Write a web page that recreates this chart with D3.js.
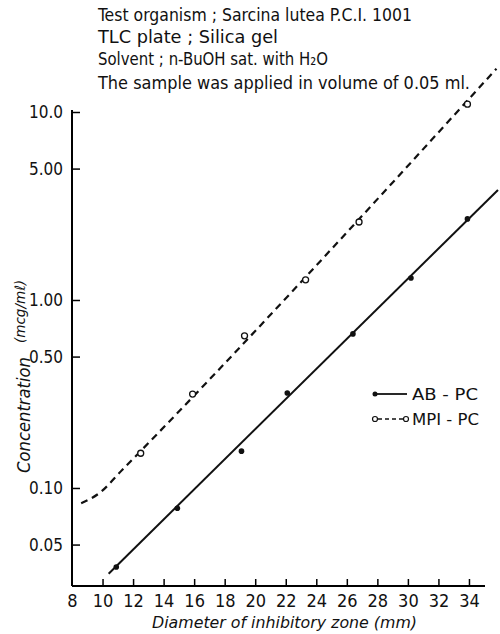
<!DOCTYPE html>
<html>
<head>
<meta charset="utf-8">
<script src="https://cdn.jsdelivr.net/npm/d3@7"></script>
<style>
  html, body { margin: 0; padding: 0; background: #fff; }
  svg { display: block; }
  text { fill: #111; font-family: "DejaVu Sans Condensed", "Liberation Sans Narrow", "Liberation Sans", sans-serif; }
</style>
</head>
<body>
<svg id="chart" width="500" height="634"></svg>
<script>
// Measured points: diameter (mm) vs. concentration (mcg/ml)
const abDiameter   = [10.9, 14.9, 19.1, 22.1, 26.4, 30.2, 33.9];
const abConc       = [0.038, 0.078, 0.157, 0.32, 0.66, 1.31, 2.70];
const mpiDiameter  = [12.5, 15.9, 19.3, 23.3, 26.8, 33.9];
const mpiConc      = [0.153, 0.316, 0.645, 1.28, 2.60, 11.0];

// Drawn standard curves
const abCurveDiameter  = [10.4, 35.9];
const abCurveConc      = [0.035, 3.85];
const mpiCurveDiameter = [8.6, 9.8, 11.3, 35.8];
const mpiCurveConc     = [0.083, 0.094, 0.125, 17.0];

// Axis ticks
const xTicks = [8, 10, 12, 14, 16, 18, 20, 22, 24, 26, 28, 30, 32, 34];
const yTicks = [0.05, 0.1, 0.5, 1, 5, 10];
const yTickLabels = ["0.05", "0.10", "0.50", "1.00", "5.00", "10.0"];

const titleLines = [
  "Test organism ; Sarcina lutea P.C.I. 1001",
  "TLC plate ; Silica gel",
  "Solvent ; n-BuOH sat. with H\u2082O",
  "The sample was applied in volume of 0.05 ml."
];
const seriesNames = ["AB - PC", "MPI - PC"];

const svg = d3.select("#chart");

const x = d3.scaleLinear().domain([8, 35.05]).range([72, 485]);
const y = d3.scaleLog().domain([0.0301, 10]).range([586, 112]);

// Header notes
const titleY = [21, 43, 65, 89];
const titleW = [314, 180, 230, 372];
svg.append("g").selectAll("text").data(titleLines).join("text")
  .attr("x", 98)
  .attr("y", (d, i) => titleY[i])
  .attr("font-size", 18)
  .attr("textLength", (d, i) => titleW[i])
  .attr("lengthAdjust", "spacingAndGlyphs")
  .text(d => d);

// Axes
const xAxis = d3.axisBottom(x)
  .tickValues(xTicks)
  .tickSize(-7)
  .tickPadding(8)
  .tickFormat(d3.format("d"));
const gx = svg.append("g").attr("transform", "translate(0,586)").call(xAxis);
gx.select(".domain").attr("d", "M72,0H485").attr("stroke-width", 2);
gx.selectAll(".tick line").attr("stroke-width", 1.5).filter(d => d === 8).remove();
gx.selectAll(".tick text").attr("font-size", 18).attr("fill", "#111");

const yAxis = d3.axisLeft(y)
  .tickValues(yTicks)
  .tickSize(-8)
  .tickPadding(9)
  .tickFormat((d, i) => yTickLabels[i]);
const gy = svg.append("g").attr("transform", "translate(72,0)").call(yAxis);
gy.select(".domain").attr("d", "M0,110V586").attr("stroke-width", 2);
gy.selectAll(".tick line").attr("stroke-width", 1.5);
gy.selectAll(".tick text").attr("font-size", 17).attr("fill", "#111");

// Axis titles
svg.append("text")
  .attr("x", 152).attr("y", 628)
  .attr("font-size", 16)
  .attr("font-style", "italic")
  .attr("textLength", 265)
  .attr("lengthAdjust", "spacingAndGlyphs")
  .text("Diameter of inhibitory zone (mm)");

svg.append("text")
  .attr("transform", "translate(30,473) rotate(-90)")
  .attr("font-size", 17)
  .attr("font-style", "italic")
  .attr("textLength", 116)
  .attr("lengthAdjust", "spacingAndGlyphs")
  .text("Concentration");

svg.append("text")
  .attr("transform", "translate(25,343) rotate(-90)")
  .attr("font-size", 14)
  .attr("font-style", "italic")
  .attr("textLength", 63)
  .attr("lengthAdjust", "spacingAndGlyphs")
  .text("(mcg/m\u2113)");

// Curves
const line = d3.line().x(d => x(d[0])).y(d => y(d[1]));
const mpiLine = d3.line().curve(d3.curveMonotoneX).x(d => x(d[0])).y(d => y(d[1]));

svg.append("path")
  .datum(d3.zip(abCurveDiameter, abCurveConc))
  .attr("d", line)
  .attr("fill", "none")
  .attr("stroke", "#111")
  .attr("stroke-width", 2);

svg.append("path")
  .datum(d3.zip(mpiCurveDiameter, mpiCurveConc))
  .attr("d", mpiLine)
  .attr("fill", "none")
  .attr("stroke", "#111")
  .attr("stroke-width", 2.2)
  .attr("stroke-dasharray", "7,5");

// Points
svg.append("g").selectAll("circle").data(d3.zip(abDiameter, abConc)).join("circle")
  .attr("cx", d => x(d[0])).attr("cy", d => y(d[1]))
  .attr("r", 2.8).attr("fill", "#111");

svg.append("g").selectAll("circle").data(d3.zip(mpiDiameter, mpiConc)).join("circle")
  .attr("cx", d => x(d[0])).attr("cy", d => y(d[1]))
  .attr("r", 3).attr("fill", "#fff").attr("stroke", "#111").attr("stroke-width", 1.3);

// Legend
const lg = svg.append("g");
lg.append("line").attr("x1", 375).attr("x2", 407).attr("y1", 394).attr("y2", 394)
  .attr("stroke", "#111").attr("stroke-width", 1.8);
lg.append("circle").attr("cx", 375).attr("cy", 394).attr("r", 2.5).attr("fill", "#111");
lg.append("line").attr("x1", 378).attr("x2", 403).attr("y1", 419).attr("y2", 419)
  .attr("stroke", "#111").attr("stroke-width", 1.5).attr("stroke-dasharray", "4,3");
lg.append("circle").attr("cx", 375).attr("cy", 419).attr("r", 2.5)
  .attr("fill", "#fff").attr("stroke", "#111").attr("stroke-width", 1.2);
lg.append("circle").attr("cx", 406).attr("cy", 419).attr("r", 2.5)
  .attr("fill", "#fff").attr("stroke", "#111").attr("stroke-width", 1.2);
lg.selectAll("text").data(seriesNames).join("text")
  .attr("x", 412)
  .attr("y", (d, i) => 400 + i * 25)
  .attr("font-size", 16)
  .attr("textLength", (d, i) => i === 0 ? 66 : 67)
  .attr("lengthAdjust", "spacingAndGlyphs")
  .text(d => d);
</script>
</body>
</html>
